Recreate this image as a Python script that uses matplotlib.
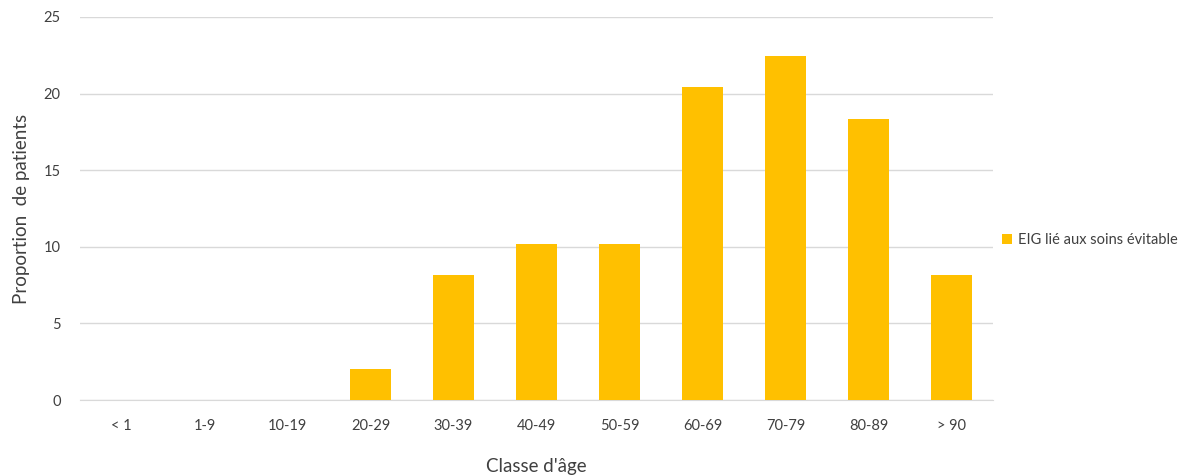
import matplotlib.pyplot as plt
import numpy as np

# Age classes and share of patients (%)
classes = ['< 1', '1-9', '10-19', '20-29', '30-39', '40-49', '50-59',
           '60-69', '70-79', '80-89', '> 90']
proportions = [0, 0, 0, 2.04, 8.16, 10.2, 10.2, 20.41, 22.45, 18.37, 8.16]
series_name = 'EIG lié aux soins évitable'

plt.rcParams['font.family'] = ['Lato', 'DejaVu Sans']

fig = plt.figure(figsize=(12.03, 4.75), dpi=100)
ax = fig.add_axes([80 / 1203, 1 - 400 / 475, 913 / 1203, 383 / 475])

x = np.arange(len(classes))
ax.bar(x, proportions, width=0.5, color='#FFC000', label=series_name, zorder=3)

ax.set_xlim(-0.5, len(classes) - 0.5)
ax.set_ylim(0, 25)
ax.set_yticks(range(0, 26, 5))
ax.set_xticks(x)
ax.set_xticklabels(classes)

ax.grid(axis='y', color='#D9D9D9', linewidth=1, zorder=0)
for side in ['top', 'right', 'left']:
    ax.spines[side].set_visible(False)
ax.spines['bottom'].set_color('#D9D9D9')
ax.tick_params(axis='both', length=0, labelsize=10.5, colors='#404040')
ax.tick_params(axis='x', pad=14)
ax.tick_params(axis='y', pad=14)

ax.set_xlabel("Classe d'âge", fontsize=13.5, color='#404040', labelpad=18)
ax.set_ylabel('Proportion  de patients', fontsize=13.5, color='#404040', labelpad=10)

ax.legend(loc='center left', bbox_to_anchor=(0.995, 0.418), frameon=False,
          fontsize=10.5, handlelength=0.7, handleheight=0.7, handletextpad=0.4,
          labelcolor='#404040')

fig.savefig('out.png', dpi=100)
